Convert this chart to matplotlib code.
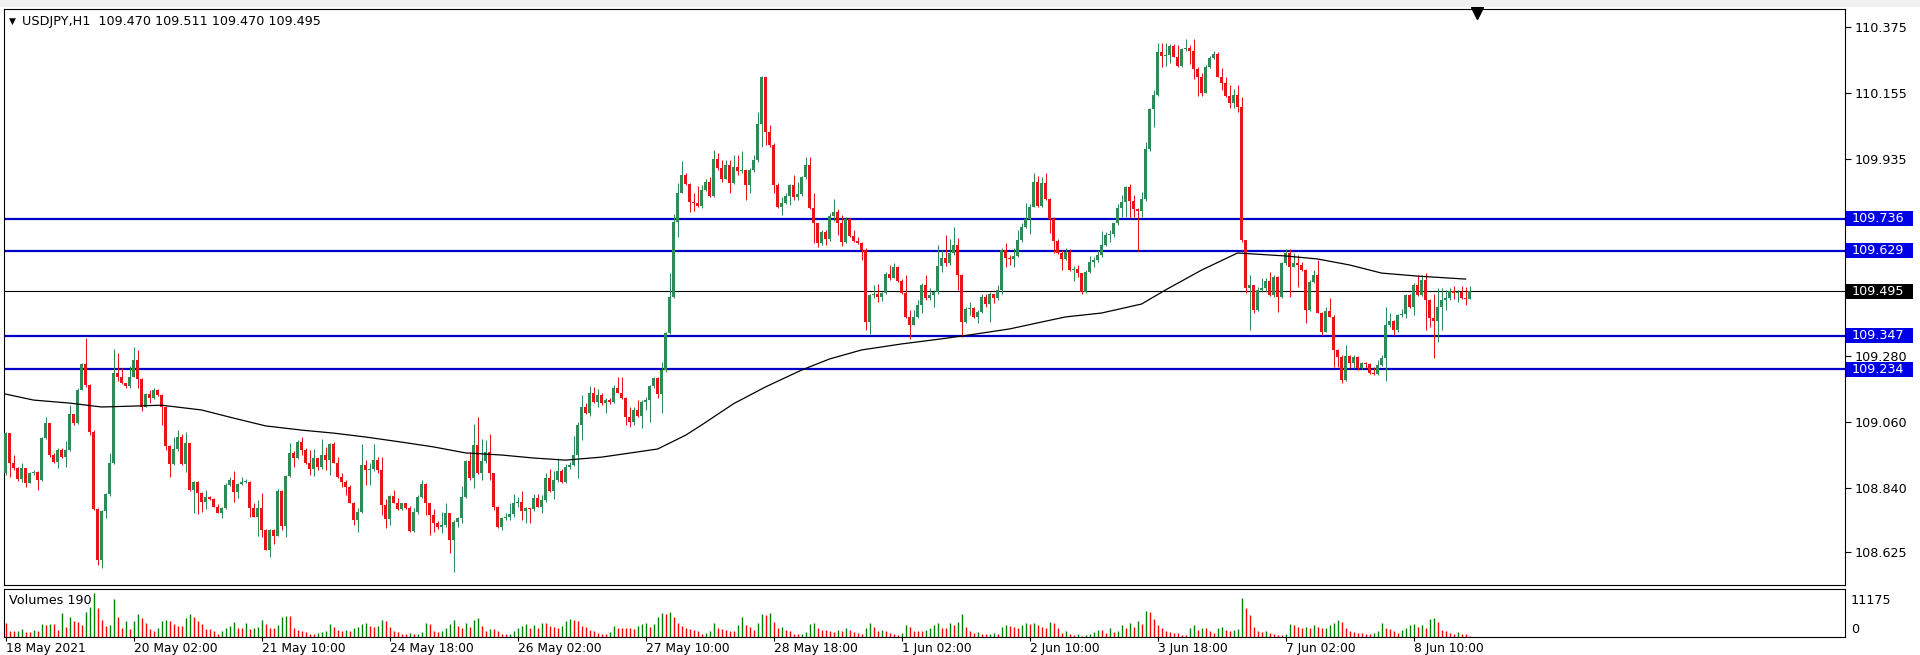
import numpy as np
import matplotlib.pyplot as plt
from matplotlib.patches import Rectangle

# USDJPY H1 candles, bar 0 = 18 May 2021 18:00 (open of each bar = previous close)
first_open = 108.888
closes = [
    109.021, 108.922, 108.905, 108.868, 108.905, 108.855, 108.890, 108.894, 108.866, 109.005,
    109.055, 108.949, 108.927, 108.966, 108.944, 108.966, 109.085, 109.055, 109.166, 109.252,
    109.182, 109.027, 108.769, 108.600, 108.761, 108.818, 108.922, 109.221, 109.210, 109.188,
    109.179, 109.210, 109.266, 109.201, 109.110, 109.152, 109.138, 109.166, 109.149, 109.108,
    108.979, 108.918, 108.968, 109.008, 108.918, 108.988, 108.833, 108.860, 108.822, 108.794,
    108.810, 108.803, 108.777, 108.757, 108.772, 108.849, 108.866, 108.827, 108.853, 108.860,
    108.860, 108.774, 108.744, 108.772, 108.699, 108.633, 108.699, 108.679, 108.830, 108.713,
    108.879, 108.957, 108.938, 108.994,
    108.966, 108.921, 108.904, 108.938, 108.910, 108.949, 108.932, 108.986, 108.923, 108.875,
    108.860, 108.843, 108.790, 108.732, 108.760, 108.916, 108.899, 108.901, 108.932, 108.899,
    108.782, 108.736, 108.813, 108.790, 108.769, 108.788, 108.771, 108.697, 108.760, 108.810,
    108.852, 108.790, 108.749, 108.724, 108.708, 108.716, 108.755, 108.666, 108.727, 108.740,
    108.810, 108.930, 108.871, 108.982, 108.888, 108.930, 108.960, 108.888, 108.777, 108.708,
    108.738, 108.743, 108.752, 108.790, 108.793, 108.763, 108.773, 108.768, 108.807, 108.777,
    108.799, 108.873, 108.830, 108.866, 108.897, 108.860, 108.910, 108.916, 108.949, 109.049,
    109.110, 109.090, 109.154, 109.127, 109.149,
    109.121, 109.132, 109.127, 109.171, 109.157, 109.138, 109.077, 109.060, 109.099, 109.079,
    109.127, 109.132, 109.179, 109.204, 109.152, 109.232, 109.356, 109.476, 109.726, 109.823,
    109.882, 109.852, 109.793, 109.787, 109.780, 109.832, 109.859, 109.812, 109.934, 109.904,
    109.870, 109.915, 109.854, 109.907, 109.896, 109.898, 109.848, 109.898, 109.932, 110.052,
    110.207, 110.026, 109.982, 109.848, 109.776, 109.789, 109.812, 109.848, 109.809, 109.818,
    109.874, 109.915, 109.771, 109.721, 109.654, 109.693, 109.667, 109.745, 109.760, 109.721,
    109.660, 109.734, 109.679, 109.663, 109.654, 109.632, 109.393, 109.482, 109.484, 109.476,
    109.490, 109.551, 109.537, 109.574, 109.530, 109.490, 109.410, 109.382, 109.410, 109.449,
    109.515, 109.471, 109.482, 109.493, 109.579, 109.604, 109.587, 109.623, 109.648, 109.549,
    109.393, 109.434, 109.438, 109.410, 109.426, 109.476, 109.452, 109.487, 109.471, 109.499,
    109.632, 109.604, 109.601, 109.612, 109.665, 109.707, 109.734, 109.776, 109.859, 109.778,
    109.856, 109.801, 109.734, 109.663, 109.623, 109.601, 109.626, 109.565, 109.567, 109.554,
    109.493, 109.560, 109.591, 109.599, 109.615, 109.648, 109.682, 109.685, 109.721, 109.771,
    109.793, 109.841, 109.796, 109.767, 109.763, 109.801, 109.967, 110.100, 110.148, 110.292,
    110.278, 110.283, 110.311, 110.276, 110.245, 110.300, 110.305, 110.296, 110.234, 110.209,
    110.154, 110.243, 110.270, 110.285, 110.209, 110.187, 110.145, 110.120, 110.148, 110.107,
    109.665, 109.505,
    109.515, 109.432, 109.499, 109.504, 109.529, 109.482, 109.543, 109.476, 109.590, 109.621,
    109.576, 109.587, 109.582, 109.565, 109.432, 109.526, 109.549, 109.423, 109.360, 109.430,
    109.410, 109.299, 109.277, 109.199, 109.279, 109.254, 109.277, 109.238, 109.254, 109.252,
    109.221, 109.219, 109.249, 109.271, 109.382, 109.396, 109.365, 109.415, 109.419, 109.482,
    109.441, 109.515, 109.482, 109.532, 109.465, 109.404, 109.396, 109.441, 109.465, 109.471,
    109.496, 109.488, 109.493, 109.471, 109.470, 109.495,
]
highs = [
    109.027, 109.021, 108.949, 108.910, 108.922, 108.905, 108.894, 108.899, 108.897, 109.010,
    109.075, 109.055, 108.957, 108.971, 108.974, 108.995, 109.116, 109.083, 109.171, 109.257,
    109.338, 109.186, 109.033, 108.774, 108.766, 108.822, 108.955, 109.301, 109.288, 109.240,
    109.186, 109.244, 109.310, 109.299, 109.204, 109.155, 109.166, 109.171, 109.168, 109.151,
    109.113, 108.983, 109.010, 109.033, 109.019, 109.027, 108.988, 108.863, 108.863, 108.825,
    108.833, 108.813, 108.807, 108.786, 108.777, 108.855, 108.877, 108.897, 108.857, 108.877,
    108.868, 108.863, 108.788, 108.799, 108.822, 108.702, 108.702, 108.702, 108.835, 108.833,
    108.883, 108.988, 108.963, 108.999,
    109.010, 108.971, 108.966, 108.968, 108.916, 109.001, 108.977, 108.990, 108.993, 108.943,
    108.888, 108.866, 108.849, 108.793, 108.771, 108.986, 108.932, 108.921, 108.986, 108.943,
    108.941, 108.801, 108.816, 108.832, 108.805, 108.790, 108.788, 108.779, 108.771, 108.816,
    108.866, 108.855, 108.790, 108.768, 108.729, 108.760, 108.788, 108.757, 108.732, 108.743,
    108.846, 108.932, 108.960, 109.052, 109.074, 109.001, 108.999, 109.019, 108.890, 108.779,
    108.741, 108.755, 108.788, 108.819, 108.810, 108.829, 108.777, 108.773, 108.819, 108.819,
    108.816, 108.890, 108.904, 108.897, 108.938, 108.904, 108.919, 108.927, 109.012, 109.060,
    109.149, 109.121, 109.179, 109.174, 109.168,
    109.154, 109.138, 109.138, 109.182, 109.210, 109.210, 109.141, 109.110, 109.110, 109.132,
    109.132, 109.143, 109.182, 109.210, 109.210, 109.260, 109.360, 109.554, 109.752, 109.856,
    109.929, 109.889, 109.854, 109.821, 109.845, 109.848, 109.870, 109.874, 109.965, 109.954,
    109.932, 109.932, 109.932, 109.948, 109.948, 109.963, 109.898, 109.904, 109.948, 110.093,
    110.211, 110.209, 110.048, 109.987, 109.854, 109.809, 109.821, 109.852, 109.882, 109.859,
    109.878, 109.940, 109.943, 109.821, 109.723, 109.698, 109.698, 109.754, 109.801, 109.767,
    109.748, 109.743, 109.737, 109.698, 109.674, 109.660, 109.637, 109.487, 109.515, 109.519,
    109.493, 109.560, 109.582, 109.587, 109.579, 109.534, 109.549, 109.432, 109.432, 109.465,
    109.521, 109.549, 109.504, 109.499, 109.648, 109.632, 109.682, 109.667, 109.710, 109.671,
    109.552, 109.443, 109.460, 109.443, 109.432, 109.485, 109.485, 109.493, 109.482, 109.515,
    109.637, 109.654, 109.615, 109.637, 109.698, 109.721, 109.787, 109.785, 109.889, 109.878,
    109.874, 109.887, 109.804, 109.741, 109.667, 109.632, 109.637, 109.634, 109.579, 109.582,
    109.556, 109.565, 109.612, 109.610, 109.632, 109.696, 109.693, 109.698, 109.723, 109.785,
    109.815, 109.845, 109.852, 109.815, 109.771, 109.826, 109.993, 110.104, 110.165, 110.320,
    110.320, 110.320, 110.318, 110.318, 110.315, 110.304, 110.334, 110.315, 110.334, 110.240,
    110.223, 110.248, 110.278, 110.296, 110.292, 110.237, 110.209, 110.181, 110.167, 110.181,
    110.143, 109.665,
    109.549, 109.515, 109.510, 109.537, 109.537, 109.560, 109.549, 109.545, 109.593, 109.634,
    109.634, 109.621, 109.615, 109.593, 109.567, 109.532, 109.565, 109.599, 109.427, 109.443,
    109.471, 109.415, 109.301, 109.282, 109.315, 109.282, 109.282, 109.279, 109.260, 109.260,
    109.254, 109.243, 109.265, 109.282, 109.443, 109.421, 109.399, 109.419, 109.434, 109.485,
    109.485, 109.521, 109.549, 109.549, 109.556, 109.468, 109.485, 109.504, 109.504, 109.498,
    109.504, 109.512, 109.499, 109.512, 109.510, 109.511,
]
lows = [
    108.883, 108.877, 108.899, 108.864, 108.860, 108.844, 108.857, 108.882, 108.833, 108.864,
    109.001, 108.944, 108.922, 108.905, 108.938, 108.910, 108.964, 109.049, 109.053, 109.164,
    109.177, 109.016, 108.766, 108.583, 108.572, 108.738, 108.813, 108.919, 109.194, 109.186,
    109.171, 109.171, 109.208, 109.171, 109.097, 109.108, 109.121, 109.135, 109.146, 109.049,
    108.966, 108.877, 108.916, 108.964, 108.915, 108.894, 108.830, 108.755, 108.752, 108.760,
    108.768, 108.799, 108.775, 108.755, 108.738, 108.768, 108.847, 108.794, 108.805, 108.849,
    108.855, 108.744, 108.742, 108.679, 108.677, 108.631, 108.611, 108.653, 108.679, 108.699,
    108.677, 108.877, 108.910, 108.935,
    108.949, 108.919, 108.882, 108.879, 108.899, 108.904, 108.899, 108.882, 108.921, 108.871,
    108.843, 108.816, 108.788, 108.716, 108.694, 108.757, 108.849, 108.849, 108.897, 108.888,
    108.749, 108.705, 108.716, 108.788, 108.766, 108.766, 108.769, 108.693, 108.693, 108.752,
    108.805, 108.749, 108.682, 108.693, 108.701, 108.688, 108.710, 108.624, 108.560, 108.710,
    108.724, 108.805, 108.866, 108.838, 108.886, 108.866, 108.921, 108.866, 108.766, 108.705,
    108.699, 108.732, 108.732, 108.743, 108.777, 108.732, 108.724, 108.724, 108.763, 108.775,
    108.755, 108.793, 108.827, 108.801, 108.860, 108.857, 108.855, 108.904, 108.912, 108.871,
    108.999, 109.085, 109.079, 109.123, 109.110,
    109.115, 109.090, 109.118, 109.123, 109.154, 109.134, 109.049, 109.043, 109.049, 109.077,
    109.038, 109.099, 109.060, 109.171, 109.138, 109.088, 109.226, 109.352, 109.471, 109.674,
    109.821, 109.848, 109.759, 109.763, 109.776, 109.771, 109.829, 109.809, 109.809, 109.898,
    109.859, 109.867, 109.821, 109.852, 109.882, 109.889, 109.798, 109.821, 109.893, 109.926,
    109.974, 109.982, 109.976, 109.821, 109.771, 109.748, 109.785, 109.782, 109.798, 109.798,
    109.812, 109.867, 109.767, 109.654, 109.641, 109.649, 109.649, 109.663, 109.730, 109.682,
    109.645, 109.656, 109.674, 109.660, 109.652, 109.598, 109.365, 109.352, 109.471, 109.460,
    109.463, 109.487, 109.532, 109.565, 109.526, 109.487, 109.407, 109.334, 109.385, 109.404,
    109.421, 109.467, 109.467, 109.443, 109.487, 109.560, 109.579, 109.582, 109.615, 109.499,
    109.343, 109.390, 109.415, 109.407, 109.390, 109.421, 109.443, 109.393, 109.456, 109.465,
    109.485, 109.574, 109.582, 109.576, 109.607, 109.660, 109.704, 109.685, 109.774, 109.776,
    109.774, 109.798, 109.687, 109.623, 109.619, 109.565, 109.599, 109.563, 109.530, 109.543,
    109.487, 109.490, 109.556, 109.574, 109.593, 109.607, 109.645, 109.660, 109.676, 109.715,
    109.743, 109.743, 109.737, 109.741, 109.630, 109.743, 109.796, 109.963, 110.043, 110.145,
    110.243, 110.245, 110.254, 110.274, 110.243, 110.243, 110.296, 110.251, 110.200, 110.145,
    110.145, 110.156, 110.237, 110.267, 110.207, 110.165, 110.143, 110.104, 110.104, 110.093,
    109.660, 109.489,
    109.365, 109.423, 109.430, 109.493, 109.493, 109.479, 109.474, 109.426, 109.471, 109.582,
    109.474, 109.574, 109.510, 109.563, 109.388, 109.430, 109.521, 109.421, 109.349, 109.360,
    109.408, 109.243, 109.243, 109.188, 109.197, 109.238, 109.238, 109.232, 109.234, 109.238,
    109.219, 109.215, 109.215, 109.245, 109.197, 109.376, 109.349, 109.360, 109.410, 109.404,
    109.438, 109.415, 109.479, 109.479, 109.365, 109.376, 109.271, 109.327, 109.365, 109.432,
    109.465, 109.468, 109.460, 109.468, 109.449, 109.470,
]
volumes = [
    3600, 1600, 1440, 1600, 2000, 1200, 1200, 1760, 1600, 3360,
    3040, 3200, 3200, 1760, 6000, 2560, 5200, 4000, 3840, 3040,
    6400, 7600, 11175, 7360, 4400, 2800, 3040, 9600, 4960, 2400,
    4160, 2000, 4160, 5760, 4800, 3600, 2000, 1600, 2400, 4160,
    4400, 4160, 3360, 2800, 2800, 4800, 5760, 4960, 4160, 3200,
    2000, 2000, 1440, 800, 1600, 2400, 2800, 3840, 2400, 2400,
    3600, 2000, 2400, 2560, 4400, 3200, 2400, 2400, 3040, 5200,
    5360, 5360, 2400, 1760, 1440, 1200, 800, 640, 960, 1200,
    1600, 3200, 2560, 1760, 1600, 1760, 1600, 2400, 2560, 3360,
    3600, 2800, 2560, 2800, 4400, 4160, 2560, 1440, 1200, 800,
    800, 960, 640, 800, 1200, 3600, 3200, 1600, 1200, 1440,
    2400, 3360, 4400, 2800, 2400, 3600, 2560, 4400, 4800, 2800,
    1600, 2000, 2000, 1440, 800, 640, 800, 1440, 2400, 2800,
    3360, 2400, 3040, 2240, 3600, 3600, 2800, 2560, 2240, 2800,
    4000, 4640, 4400, 4160, 2800, 2560, 1760, 1600, 960, 640,
    640, 1200, 2800, 2400, 2400, 2400, 2400, 2000, 2800, 3360,
    3600, 2560, 3360, 5200, 6000, 5760, 6400, 5200, 3600, 2800,
    2400, 2000, 1760, 1600,
    640, 1040, 1440, 3440, 2400, 2080, 1840, 1600, 1600, 3040,
    5040, 3040, 2640, 1840, 3440, 5840, 5600, 6080, 3840, 2400,
    2640, 1840, 1600, 800, 640, 800, 1280, 3200, 3440, 2240,
    1840, 1840, 1440, 1280, 1840, 1600, 2400, 1840, 1280, 1040,
    800, 2240, 3440, 2640, 1600, 1840, 1440, 1040, 640, 480,
    1040, 3040, 2640, 1600, 1440, 1440, 1840, 2240, 3040, 3440,
    2240, 2240, 3440, 3040, 3840, 5840, 2640, 1440, 1040, 1280,
    800, 640, 800, 1040, 640, 2640, 3040, 2880, 2640, 2240,
    3040, 3440, 3200, 3680, 3040, 2640, 2240, 3840, 3440, 2400,
    1040, 1440, 640, 480, 640, 240, 480, 640, 1280, 1840,
    1840, 1040, 2240, 1280, 1600, 3040, 2400, 3440, 2640, 4000,
    3200, 6640, 6240, 4640, 3040, 2240, 1440, 1280, 1040, 1040,
    480, 480, 2240, 3040, 1840, 2400, 2240, 1440, 1040, 2240,
    2640, 1840, 1440, 1840, 2080, 9840, 7440, 5600, 2640, 1600,
    1280, 1600, 1040, 640, 480, 480, 800, 3200, 3040, 2640,
    2240, 2640, 2240, 3040, 2640, 2240, 2400, 3040, 3440, 4240,
    3840, 2240, 1600, 1280, 1040, 1040, 800, 640, 1040, 1440,
    3440, 2240, 2080, 1440, 1040, 1840, 2400, 3040, 3200, 2640,
    3040, 2400, 4640, 4800, 3840, 1840, 1440, 1040, 800, 1280,
    640, 640, 190,
]
# moving average (black line), read at a few bars
ma_idx = [0, 7, 16, 24, 32, 39, 49, 57, 65, 74, 82, 90, 99, 107, 115, 124, 132, 140,
          149, 163, 170, 174, 182, 190, 199, 206, 214, 224, 234, 241, 251, 259, 265,
          274, 284, 290, 299, 308, 320, 328, 336, 344, 353, 365]
ma_val = [109.152, 109.132, 109.122, 109.109, 109.112, 109.115, 109.099, 109.072, 109.046,
          109.032, 109.022, 109.009, 108.992, 108.976, 108.956, 108.949, 108.939, 108.932,
          108.942, 108.969, 109.015, 109.049, 109.120, 109.176, 109.232, 109.269, 109.299,
          109.319, 109.336, 109.349, 109.369, 109.392, 109.409, 109.422, 109.452, 109.499,
          109.565, 109.622, 109.612, 109.602, 109.582, 109.555, 109.545, 109.535]

levels = [109.736, 109.629, 109.347, 109.234]
bid = 109.495
# 109.715 and 109.495 sit under the price boxes, so only the visible ones are labelled
price_ticks = [110.375, 110.155, 109.935, 109.280, 109.060, 108.840, 108.625]
time_idx = [0, 32, 64, 96, 128, 160, 192, 224, 256, 288, 320, 352]
time_labels = ['18 May 2021', '20 May 02:00', '21 May 10:00', '24 May 18:00', '26 May 02:00',
               '27 May 10:00', '28 May 18:00', '1 Jun 02:00', '2 Jun 10:00', '3 Jun 18:00',
               '7 Jun 02:00', '8 Jun 10:00']
vol_max = 11175

closes = np.array(closes)
opens = np.concatenate([[first_open], closes[:-1]])
highs = np.maximum(np.array(highs), np.maximum(opens, closes))
lows = np.minimum(np.array(lows), np.minimum(opens, closes))
volumes = np.array(volumes)
x = np.arange(len(closes))

W, H = 1920, 655
FS = 9.2
fig = plt.figure(figsize=(W / 100, H / 100), dpi=100)
fig.patch.set_facecolor('white')


def px_axes(l, t, r, b):
    return fig.add_axes([l / W, 1 - b / H, (r - l) / W, (b - t) / H])


# window chrome strip on top
fig.patches.append(Rectangle((0, 1 - 7 / H), 1, 7 / H, transform=fig.transFigure,
                             fc='#f0f0f0', ec='none', zorder=0))

ax = px_axes(4, 9, 1845, 585)
axv = px_axes(4, 589, 1845, 637)

x_left = -0.4
x_right = x_left + (1845 - 4) / 4.0
y_top = 110.375 + (26.9 - 9) / 300.2
y_bot = 108.625 - (585 - 552.3) / 300.2

# candles
up = closes >= opens
ccol = np.where(up, '#2e8b57', '#e8141a')
ax.vlines(x, lows, highs, colors=ccol, linewidth=0.75, zorder=3)
body_bot = np.minimum(opens, closes)
body_h = np.maximum(np.abs(closes - opens), 0.0025)
ax.bar(x, body_h, bottom=body_bot, width=0.75, color=ccol, linewidth=0, zorder=3)

# moving average
ax.plot(ma_idx, ma_val, color='black', linewidth=0.9, zorder=4)

# horizontal levels
for lv in levels:
    ax.axhline(lv, color='#0000c8', linewidth=1.6, zorder=2)
ax.axhline(bid, color='black', linewidth=0.8, zorder=2)

ax.set_xlim(x_left, x_right)
ax.set_ylim(y_bot, y_top)
ax.set_xticks([])
ax.yaxis.tick_right()
ax.set_yticks(price_ticks)
ax.set_yticklabels([f'{p:.3f}' for p in price_ticks])
ax.tick_params(axis='y', direction='out', length=4, width=0.8, pad=3,
               labelsize=FS, colors='black')
for sp in ax.spines.values():
    sp.set_linewidth(0.8)
    sp.set_color('black')

# price boxes on the right scale
ytr = ax.get_yaxis_transform()
box_w = 67 / (1845 - 4)
box_h = 15 / 300.2
for lv, fc in [(l, '#0000e6') for l in levels] + [(bid, 'black')]:
    ax.add_patch(Rectangle((1.0006, lv - box_h / 2), box_w, box_h, transform=ytr,
                           fc=fc, ec='none', clip_on=False, zorder=6))
    ax.text(1 + 7 / 1841, lv, f'{lv:.3f}', transform=ytr, ha='left', va='center',
            color='white', fontsize=FS, clip_on=False, zorder=7)

# header text
ax.text(5 / 1841, 1 - 12 / 576, '\u25bc', transform=ax.transAxes, ha='left', va='center',
        fontsize=6.5, color='black')
ax.text(18 / 1841, 1 - 12 / 576, 'USDJPY,H1  109.470 109.511 109.470 109.495',
        transform=ax.transAxes, ha='left', va='center', fontsize=FS, color='black')
# chart shift marker
ax.plot([(1477 - 4) / 1841], [1 - 4 / 576], marker='v', markersize=8, color='black',
        transform=ax.transAxes, clip_on=False, zorder=8)

# volumes
vcol = ['#ff0000'] + ['#008000' if volumes[i] > volumes[i - 1] else '#ff0000'
                      for i in range(1, len(volumes))]
axv.vlines(x, 0, volumes, colors=vcol, linewidth=1.0)
axv.set_xlim(x_left, x_right)
axv.set_ylim(0, vol_max * 48 / 44)
axv.set_yticks([])
axv.set_xticks(time_idx)
axv.set_xticklabels(time_labels, ha='left')
axv.tick_params(axis='x', direction='out', length=3, width=0.8, pad=0.5,
                labelsize=8.8, colors='black')
for sp in axv.spines.values():
    sp.set_linewidth(0.8)
    sp.set_color('black')
axv.text(5 / 1841, 0.76, 'Volumes 190', transform=axv.transAxes, ha='left', va='center',
         fontsize=FS, color='black')
axv.text(1 + 6 / 1841, 0.76, f'{vol_max}', transform=axv.transAxes, ha='left',
         va='center', fontsize=FS, color='black', clip_on=False)
axv.text(1 + 6 / 1841, 0.16, '0', transform=axv.transAxes, ha='left',
         va='center', fontsize=FS, color='black', clip_on=False)

fig.savefig('out.png', dpi=100)
